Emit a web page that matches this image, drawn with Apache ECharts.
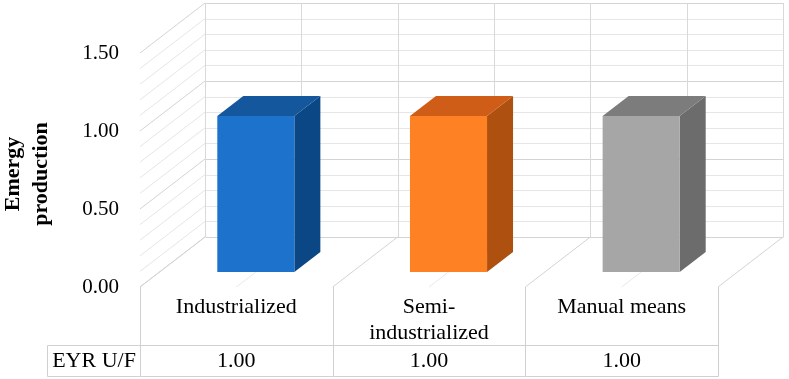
<!DOCTYPE html>
<html>
<head>
<meta charset="utf-8">
<script src="https://cdn.jsdelivr.net/npm/echarts@6/dist/echarts.min.js"></script>
<style>
html, body { margin: 0; padding: 0; background: #fff; }
#chart { width: 789px; height: 379px; }
</style>
</head>
<body>
<div id="chart"></div>
<script>
var categories = ['Industrialized', 'Semi-\nindustrialized', 'Manual means'];
var seriesName = 'EYR U/F';
var eyrValues = [1.00, 1.00, 1.00];
var yTicks = [0, 0.1, 0.2, 0.3, 0.4, 0.5, 0.6, 0.7, 0.8, 0.9, 1.0, 1.1, 1.2, 1.3, 1.4, 1.5];
var wallStops = [-0.5, 0, 0.5, 1, 1.5, 2, 2.5];
var barColors = [
    { front: '#1d72cc', side: '#0b4784', top: '#15579d' },
    { front: '#fe8124', side: '#ae500f', top: '#cf5d17' },
    { front: '#a6a6a6', side: '#6c6c6c', top: '#7c7c7c' }
];

var DEPTH_X = 65, DEPTH_Y = -50;
var FONT = 'Liberation Serif';
var ROW1 = 58, ROW2 = 89;

function crisp(v) {
    return Math.round(v) + 0.5;
}

function isMajor(v) {
    return Math.abs(v * 2 - Math.round(v * 2)) < 1e-6;
}

function line(x1, y1, x2, y2, color) {
    return {
        type: 'line',
        shape: { x1: x1, y1: y1, x2: x2, y2: y2 },
        style: { stroke: color, lineWidth: 1 }
    };
}

function renderWall(params, api) {
    var v = api.value(0);
    var p0 = api.coord([wallStops[0], v]);
    var p1 = api.coord([wallStops[wallStops.length - 1], v]);
    var color = isMajor(v) ? '#d4d4d4' : '#e6e6e6';
    var y = crisp(p0[1] + DEPTH_Y);
    return {
        type: 'group',
        children: [
            line(p0[0], p0[1], p0[0] + DEPTH_X, p0[1] + DEPTH_Y, color),
            line(crisp(p0[0] + DEPTH_X), y, crisp(p1[0] + DEPTH_X), y, color)
        ]
    };
}

function renderStops(params, api) {
    var s = api.value(0);
    var lo = api.coord([s, yTicks[0]]);
    var hi = api.coord([s, yTicks[yTicks.length - 1]]);
    var x = crisp(lo[0] + DEPTH_X);
    var edge = params.dataIndex === 0 || params.dataIndex === wallStops.length - 1;
    var floorColor = (edge || s % 1 !== 0) ? '#d4d4d4' : '#e9e9e9';
    return {
        type: 'group',
        children: [
            line(x, hi[1] + DEPTH_Y, x, lo[1] + DEPTH_Y, '#d9d9d9'),
            line(lo[0], lo[1], lo[0] + DEPTH_X, lo[1] + DEPTH_Y, floorColor)
        ]
    };
}

function renderBar(params, api) {
    var i = api.value(0);
    var v = api.value(1);
    var band = api.size([1, 0])[0];
    var base = api.coord([i, 0]);
    var tip = api.coord([i, v]);
    var half = band * 0.2;
    var ax = DEPTH_X * 0.3, ay = DEPTH_Y * 0.3;
    var bx = DEPTH_X * 0.7, by = DEPTH_Y * 0.7;
    var xl = base[0] - half, xr = base[0] + half;
    var yt = tip[1], yb = base[1];
    var c = barColors[params.dataIndex];
    return {
        type: 'group',
        children: [
            {
                type: 'polygon',
                shape: { points: [[xr + ax, yt + ay], [xr + bx, yt + by], [xr + bx, yb + by], [xr + ax, yb + ay]] },
                style: { fill: c.side }
            },
            {
                type: 'polygon',
                shape: { points: [[xl + ax, yt + ay], [xr + ax, yt + ay], [xr + bx, yt + by], [xl + bx, yt + by]] },
                style: { fill: c.top }
            },
            {
                type: 'rect',
                shape: { x: xl + ax, y: yt + ay, width: xr - xl, height: yb - yt },
                style: { fill: c.front }
            }
        ]
    };
}

function renderTable(params, api) {
    var i = api.value(0);
    var band = api.size([1, 0])[0];
    var base = api.coord([i, 0]);
    var left = crisp(base[0] - band / 2);
    var right = crisp(base[0] + band / 2);
    var y0 = base[1];
    var yr1 = crisp(y0 + ROW1), yr2 = crisp(y0 + ROW2);
    var grey = '#d0d0d0';
    var children = [
        line(left, y0, left, yr2, grey),
        line(left, yr1, right, yr1, grey),
        line(left, yr2, right, yr2, grey),
        {
            type: 'text',
            style: {
                text: categories[params.dataIndex],
                x: base[0], y: y0 + 7,
                align: 'center', verticalAlign: 'top',
                fontFamily: FONT, fontSize: 22, lineHeight: 26, fill: '#000'
            }
        },
        {
            type: 'text',
            style: {
                text: api.value(1).toFixed(2),
                x: base[0], y: (yr1 + yr2) / 2,
                align: 'center', verticalAlign: 'middle',
                fontFamily: FONT, fontSize: 22, fill: '#000'
            }
        }
    ];
    if (params.dataIndex === categories.length - 1) {
        children.push(line(right, y0, right, yr2, grey));
    }
    if (params.dataIndex === 0) {
        var headLeft = crisp(left - 94);
        children.push(line(headLeft, yr1, left, yr1, grey));
        children.push(line(headLeft, yr2, left, yr2, grey));
        children.push(line(headLeft, yr1, headLeft, yr2, grey));
        children.push({
            type: 'text',
            style: {
                text: seriesName,
                x: (headLeft + left) / 2, y: (yr1 + yr2) / 2,
                align: 'center', verticalAlign: 'middle',
                fontFamily: FONT, fontSize: 22, fill: '#000'
            }
        });
    }
    return { type: 'group', children: children };
}

var barData = eyrValues.map(function (v, i) { return [i, v]; });

var chart = echarts.init(document.getElementById('chart'));
chart.setOption({
    animation: false,
    backgroundColor: '#fff',
    grid: { left: 140, right: 71, top: 53, bottom: 92, outerBoundsMode: 'none', containLabel: false },
    xAxis: {
        type: 'value',
        min: wallStops[0],
        max: wallStops[wallStops.length - 1],
        show: false
    },
    yAxis: {
        type: 'value',
        min: 0,
        max: 1.5,
        interval: 0.5,
        axisLine: { show: false },
        axisTick: { show: false },
        splitLine: { show: false },
        axisLabel: {
            margin: 21,
            fontFamily: FONT,
            fontSize: 21,
            color: '#000',
            formatter: function (v) { return v.toFixed(2); }
        },
        name: 'Emergy\nproduction',
        nameLocation: 'middle',
        nameGap: 85,
        nameTextStyle: {
            fontFamily: FONT,
            fontSize: 22,
            fontWeight: 'bold',
            lineHeight: 28,
            color: '#000',
            padding: [0, 8, 0, 0]
        }
    },
    series: [
        {
            type: 'custom',
            name: 'walls',
            silent: true,
            z: 1,
            clip: false,
            renderItem: renderWall,
            data: yTicks.map(function (v) { return [v]; })
        },
        {
            type: 'custom',
            name: 'stops',
            silent: true,
            z: 1,
            clip: false,
            renderItem: renderStops,
            data: wallStops.map(function (s) { return [s]; })
        },
        {
            type: 'custom',
            name: seriesName,
            z: 3,
            clip: false,
            renderItem: renderBar,
            data: barData
        },
        {
            type: 'custom',
            name: 'table',
            silent: true,
            z: 2,
            clip: false,
            renderItem: renderTable,
            data: barData
        }
    ]
});
</script>
</body>
</html>
